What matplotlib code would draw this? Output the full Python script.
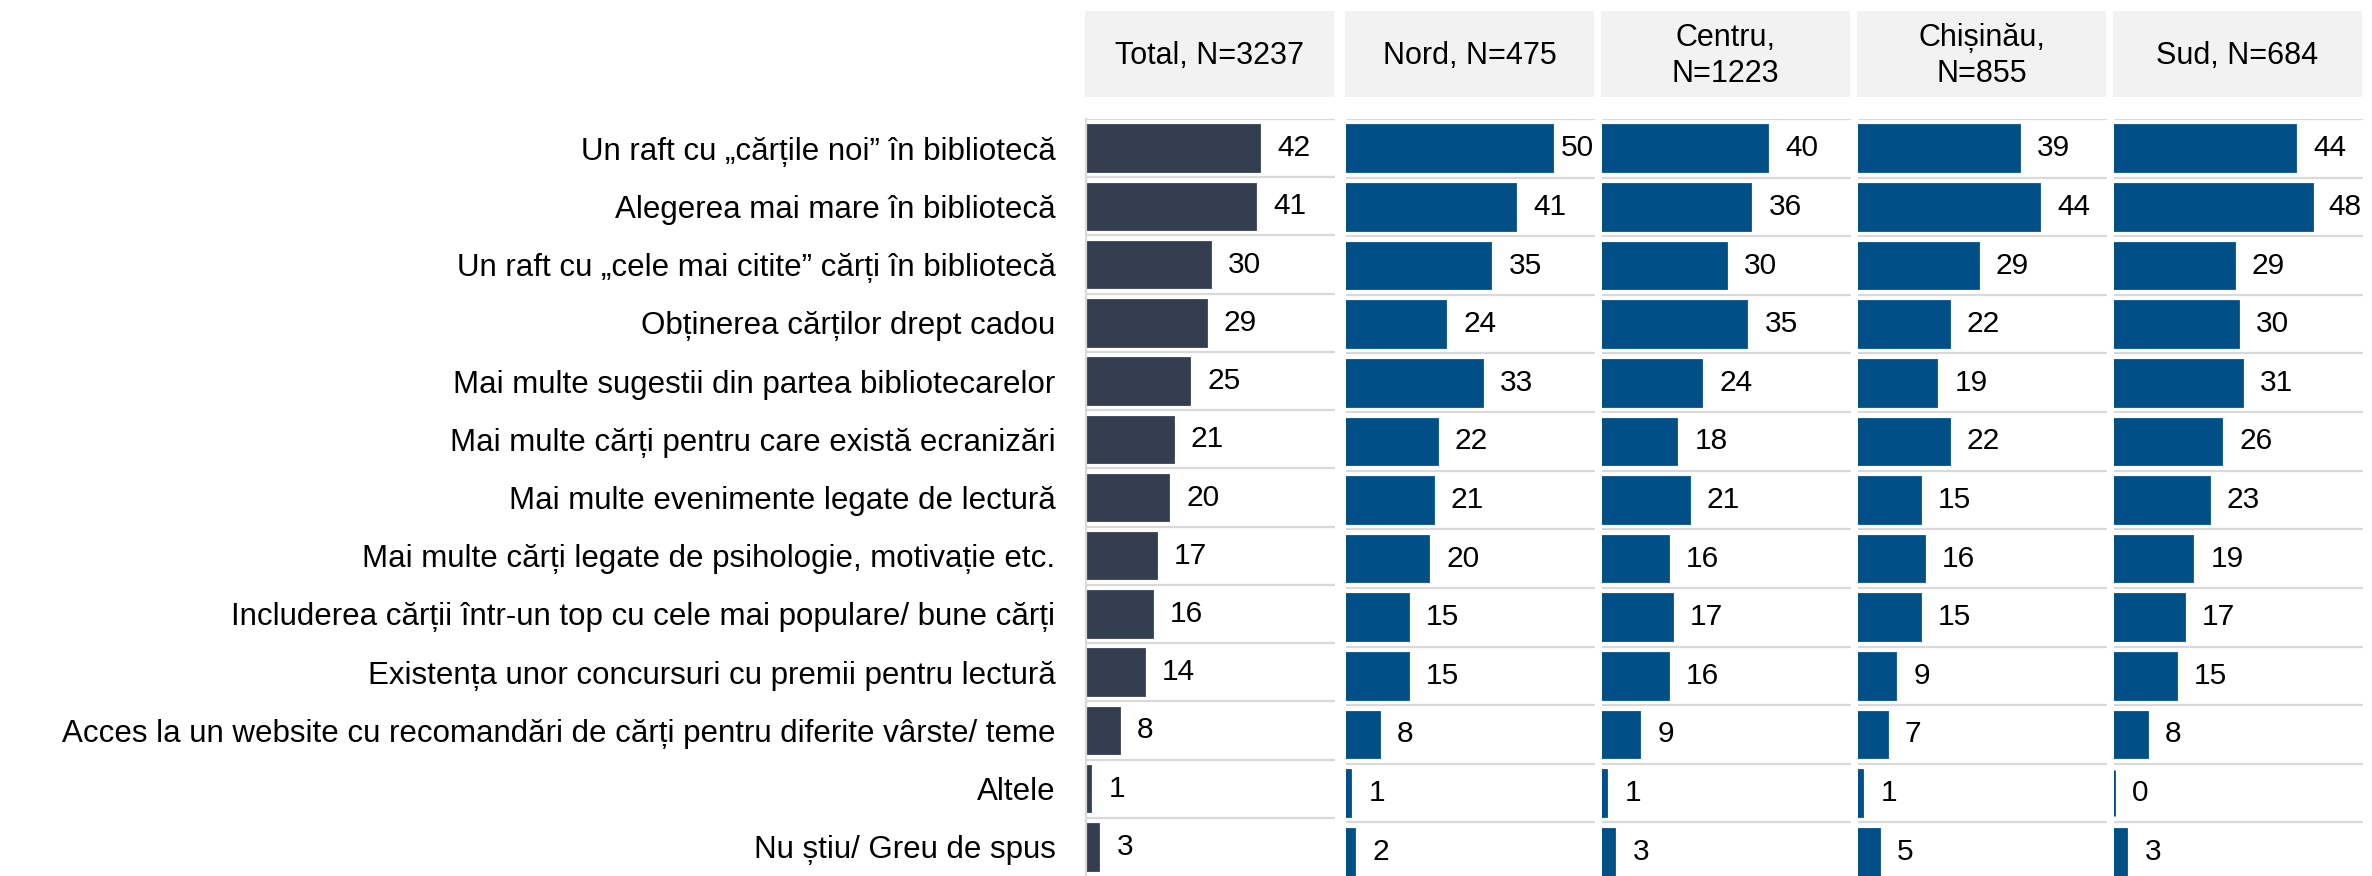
import matplotlib.pyplot as plt
from matplotlib.patches import Rectangle

plt.rcParams['font.family'] = ['Liberation Sans', 'DejaVu Sans']

# categorii si valori (%)
categories = [
    "Un raft cu „cărțile noi” în bibliotecă",
    "Alegerea mai mare în bibliotecă",
    "Un raft cu „cele mai citite” cărți în bibliotecă",
    "Obținerea cărților drept cadou",
    "Mai multe sugestii din partea bibliotecarelor",
    "Mai multe cărți pentru care există ecranizări",
    "Mai multe evenimente legate de lectură",
    "Mai multe cărți legate de psihologie, motivație etc.",
    "Includerea cărții într-un top cu cele mai populare/ bune cărți",
    "Existența unor concursuri cu premii pentru lectură",
    "Acces la un website cu recomandări de cărți pentru diferite vârste/ teme",
    "Altele",
    "Nu știu/ Greu de spus",
]
headers = ["Total, N=3237", "Nord, N=475", "Centru,\nN=1223", "Chișinău,\nN=855", "Sud, N=684"]

total = [42, 41, 30, 29, 25, 21, 20, 17, 16, 14, 8, 1, 3]
nord = [50, 41, 35, 24, 33, 22, 21, 20, 15, 15, 8, 1, 2]
centru = [40, 36, 30, 35, 24, 18, 21, 16, 17, 16, 9, 1, 3]
chisinau = [39, 44, 29, 22, 19, 22, 15, 16, 15, 9, 7, 1, 5]
sud = [44, 48, 29, 30, 31, 26, 23, 19, 17, 15, 8, 0, 3]

series = [total, nord, centru, chisinau, sud]
colors = ["#333F50", "#004F87", "#004F87", "#004F87", "#004F87"]

W, H = 2372, 876
fig = plt.figure(figsize=(W / 100, H / 100), dpi=100)

panel_x = [1086, 1346, 1602, 1858, 2114]
panel_w = 249
xmax = 60.4
n = len(categories)

for i, (vals, col) in enumerate(zip(series, colors)):
    x0 = panel_x[i]
    top = 119
    bottom = 876 if i == 0 else 881
    ax = fig.add_axes([x0 / W, 1 - bottom / H, panel_w / W, (bottom - top) / H])
    ypos = list(range(n))
    ax.barh(ypos, vals, height=0.78, color=col, edgecolor=col, linewidth=2.0)
    for y, v in zip(ypos, vals):
        lx = min(v + 4.4, xmax - 8.3)
        ax.text(lx, y, str(v), va='center', ha='left', fontsize=21.5, color='black')
    for b in range(n):
        ax.axhline(b - 0.5, color='#d9d9d9', lw=1.6, zorder=0)
    ax.set_xlim(0, xmax)
    ax.set_ylim(n - 0.5, -0.5)
    ax.set_xticks([])
    for s in ax.spines.values():
        s.set_visible(False)
    if i == 0:
        ax.spines['left'].set_visible(True)
        ax.spines['left'].set_color('#d9d9d9')
        ax.spines['left'].set_linewidth(1.6)
        ax.set_yticks(ypos)
        ax.set_yticklabels(categories, fontsize=22.5)
        ax.tick_params(axis='y', length=0, pad=22)
    else:
        ax.set_yticks([])

    # caseta antet
    fig.patches.append(Rectangle(((x0 - 1) / W, 1 - 97 / H), panel_w / W, 86 / H,
                                 transform=fig.transFigure, facecolor='#f2f2f2',
                                 edgecolor='none'))
    fig.text((x0 - 1 + panel_w / 2) / W, 1 - 56 / H, headers[i], ha='center',
             va='center', fontsize=22, linespacing=1.3)

fig.savefig("out.png", dpi=100)
